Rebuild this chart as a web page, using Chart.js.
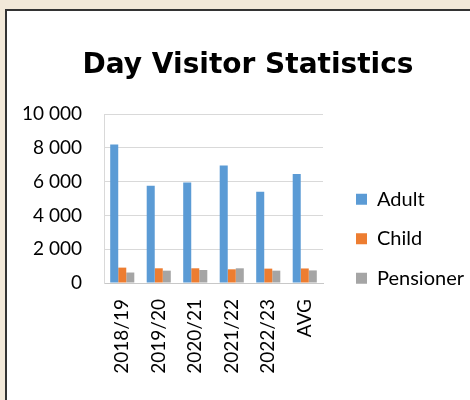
<!DOCTYPE html>
<html>
<head>
<meta charset="utf-8">
<script src="https://cdn.jsdelivr.net/npm/chart.js@4/dist/chart.umd.min.js"></script>
<style>
  html, body { margin: 0; padding: 0; width: 470px; height: 400px; overflow: hidden; background: #f2e9d9; }
  .frame { position: absolute; left: 5px; top: 9px; width: 600px; height: 500px; background: #fff; border-left: 2px solid #333; border-top: 2px solid #333; }
  #chart { position: absolute; left: 0; top: 0; }
</style>
</head>
<body>
<div class="frame"></div>
<canvas id="chart" width="474" height="400"></canvas>
<script>
  // ------- Data -------
  const seasons = ['2018/19', '2019/20', '2020/21', '2021/22', '2022/23', 'AVG'];
  const adultVisitors = [8200, 5750, 5950, 6950, 5400, 6450];
  const childVisitors = [910, 870, 870, 810, 850, 860];
  const pensionerVisitors = [620, 730, 770, 870, 730, 745];
  const yTicks = [0, 2000, 4000, 6000, 8000, 10000];

  const FONT = 'Lato, Carlito, Calibri, sans-serif';
  const TEXT = '#000';

  // thousands with a plain space: 10 000
  function spaced(v) {
    return String(v).replace(/\B(?=(\d{3})+(?!\d))/g, ' ');
  }

  const ctx = document.getElementById('chart').getContext('2d');
  new Chart(ctx, {
    type: 'bar',
    data: {
      labels: seasons,
      datasets: [
        { label: 'Adult', data: adultVisitors, backgroundColor: '#5b9bd5' },
        { label: 'Child', data: childVisitors, backgroundColor: '#ed7d31' },
        { label: 'Pensioner', data: pensionerVisitors, backgroundColor: '#a5a5a5' }
      ]
    },
    options: {
      responsive: false,
      animation: false,
      devicePixelRatio: 1,
      categoryPercentage: 0.66,
      barPercentage: 1,
      layout: { padding: { left: 22, right: 0, top: 0, bottom: 22 } },
      plugins: {
        tooltip: { enabled: false },
        title: {
          display: true,
          text: 'Day Visitor Statistics',
          color: '#000',
          font: { family: '"DejaVu Sans", sans-serif', size: 28, weight: 'bold' },
          padding: { top: 49, bottom: 31.4 }
        },
        legend: {
          position: 'right',
          align: 'start',
          maxWidth: 200,
          // blank title only pushes the items down beside the bars
          title: { display: true, text: ' ', padding: { top: 155.4, bottom: 0 } },
          labels: {
            boxWidth: 11,
            boxHeight: 11,
            padding: 19.5,
            color: TEXT,
            font: { family: FONT, size: 20 }
          }
        }
      },
      scales: {
        x: {
          grid: { display: false, drawTicks: false },
          border: { color: '#c8c8c8' },
          ticks: {
            color: TEXT,
            font: { family: FONT, size: 19 },
            minRotation: 90,
            maxRotation: 90,
            padding: 16
          },
          afterFit(axis) { axis.height = 95; }
        },
        y: {
          min: 0,
          max: 10000,
          afterBuildTicks(axis) { axis.ticks = yTicks.map(v => ({ value: v })); },
          grid: { color: '#d9d9d9', drawTicks: false },
          border: { color: '#d9d9d9' },
          ticks: {
            color: TEXT,
            font: { family: FONT, size: 19 },
            padding: 22,
            callback: v => spaced(v)
          },
          afterFit(axis) { axis.width = 82; }
        },
        // empty spacer between plot and legend
        gap: {
          type: 'linear',
          position: 'right',
          grid: { display: false, drawTicks: false },
          border: { display: false },
          ticks: { display: false },
          afterFit(axis) { axis.width = 13.5; }
        }
      }
    }
  });
</script>
</body>
</html>
